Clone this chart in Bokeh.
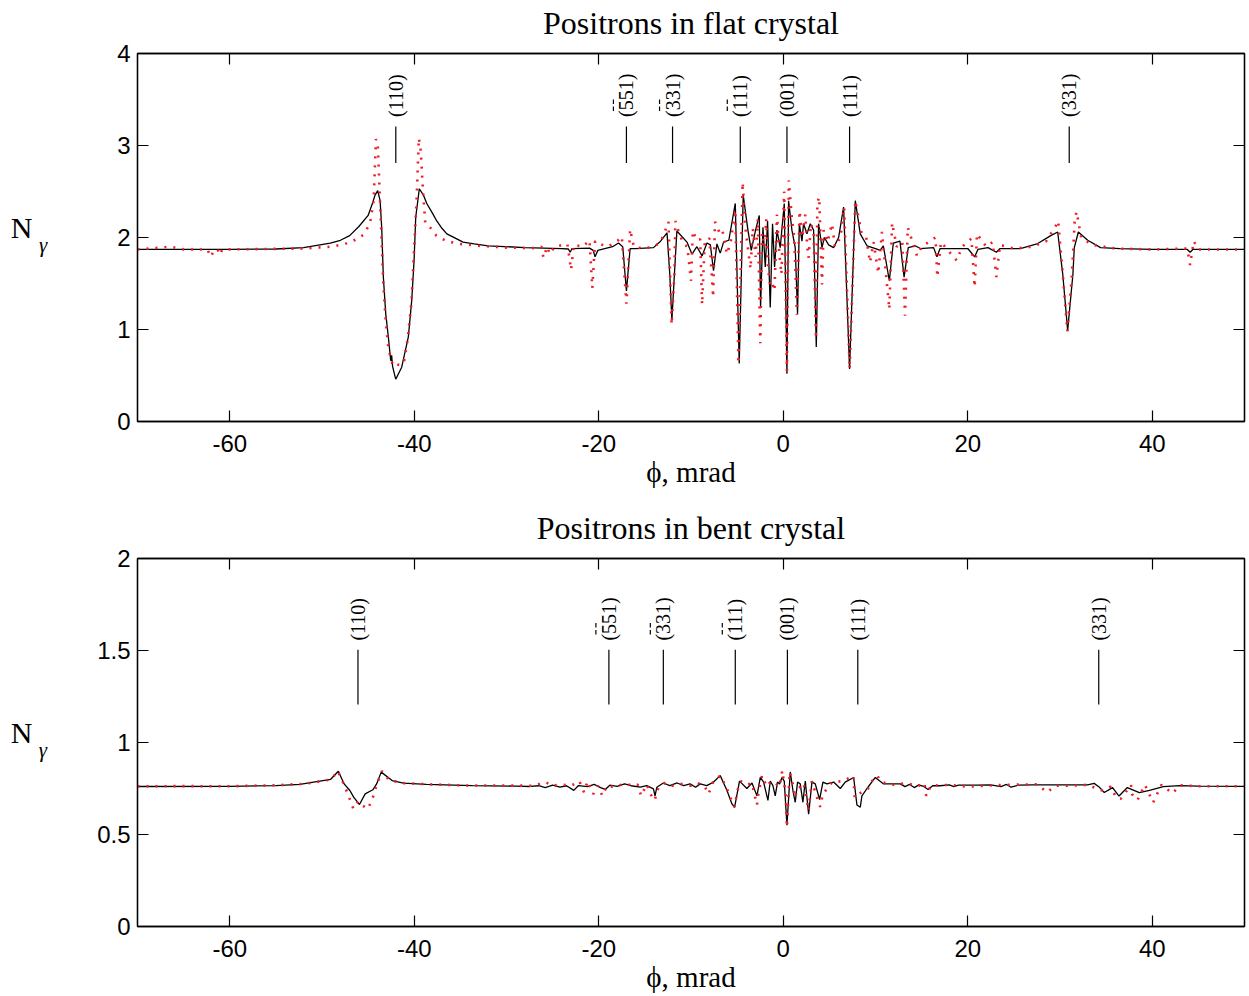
import math
from bokeh.plotting import figure
from bokeh.layouts import column
from bokeh.models import Range1d, LinearAxis, FixedTicker
from bokeh.core.properties import value
from bokeh.embed import file_html
from bokeh.resources import INLINE

# ---------------- data ----------------
x_ticks = [-60, -40, -20, 0, 20, 40]
x_tick_labels = {-60: "-60", -40: "-40", -20: "-20", 0: "0", 20: "20", 40: "40"}
flat_y_ticks = [0, 1, 2, 3, 4]
bent_y_ticks = [0, 0.5, 1, 1.5, 2]
bent_y_tick_labels = {0: "0", 0.5: "0.5", 1: "1", 1.5: "1.5", 2: "2"}

plane_names = ["(110)", "(551)", "(331)", "(111)", "(001)", "(111)", "(331)"]
plane_has_bars = [False, True, True, True, False, False, False]
flat_plane_x = [-42.0, -17.0, -12.0, -4.66, 0.40, 7.19, 31.0]
bent_plane_x = [-46.1, -18.9, -13.0, -5.2, 0.45, 8.08, 34.2]

# flat crystal: black curve
flat_line_x = [-70, -60, -55, -52, -49.1, -48, -47, -46, -45, -44.5, -44.25, -43.96, -43.7,
               -43.53, -43.35, -43.09, -42.81, -42.55, -42.45, -42.35, -42.01, -41.36, -40.64,
               -40.27, -40.02, -39.84, -39.45, -39.0, -38.64, -38.0, -37.56, -37.0, -36.47,
               -35.5, -34.71, -33.5, -32, -28, -24,
               -23.3, -23.1, -22.9, -21, -20.6, -20.4, -20.1, -18.5, -17.86, -17.4, -17.0, -16.6,
               -16.0, -14.07, -13.3, -12.6, -12.3, -12.07, -11.8, -11.53, -10.44, -9.9, -9.36,
               -8.8, -8.27, -7.9, -7.56, -7.19, -6.83, -6.47, -5.9, -5.2, -4.77, -4.34, -3.83,
               -3.47, -3.0, -2.6, -2.46, -2.2, -1.95, -1.7, -1.41, -1.16, -0.94, -0.68, -0.33,
               0.11, 0.40, 0.58, 0.94, 1.30, 1.55, 1.74, 2.03, 2.20, 2.57, 2.93, 3.29, 3.58,
               3.83, 4.20, 4.45, 4.92, 5.46, 6.0, 6.54, 7.19, 7.81, 8.35, 9.08, 10.0, 10.5,
               10.85, 11.5, 11.93, 12.65, 13.1, 13.55, 14.3, 14.86, 16.3, 16.66, 17.0, 18.5,
               20.0, 20.75, 21.1, 22.2, 23.1, 23.5, 25.7, 27.5, 29.0, 29.75, 30.3, 30.83, 31.4,
               31.55, 31.99, 33.0, 34.4, 36.5, 40, 43.8, 44.1, 44.4, 50]
flat_line_y = [1.87, 1.87, 1.875, 1.89, 1.94, 1.97, 2.02, 2.12, 2.24, 2.38, 2.46, 2.51, 2.4,
               2.11, 1.57, 1.17, 0.92, 0.66, 0.72, 0.60, 0.46, 0.59, 0.92,
               1.32, 1.75, 2.22, 2.53, 2.46, 2.37, 2.26, 2.18, 2.1, 2.04,
               1.99, 1.95, 1.93, 1.91, 1.89, 1.88,
               1.875, 1.84, 1.88, 1.885, 1.86, 1.79, 1.86, 1.9, 1.94, 1.9, 1.42, 1.88,
               1.88, 1.89, 1.96, 2.05, 1.6, 1.10, 1.6, 2.07, 1.95, 1.82, 1.9,
               1.80, 1.94, 1.92, 1.64, 1.93, 1.83, 1.95, 1.97, 2.37, 0.63, 2.46, 2.08,
               1.86, 2.08, 2.24, 1.24, 2.11, 1.68, 2.18, 1.24, 2.15, 1.68, 2.08, 1.89,
               2.37, 0.52, 2.40, 2.08, 1.89, 1.17, 2.15, 1.96, 2.15, 2.04, 2.15, 2.08, 0.81,
               2.15, 1.89, 2.0, 1.92, 1.89, 2.0, 2.33, 0.57, 2.40, 2.04, 1.91, 1.88, 1.86,
               1.91, 1.53, 1.94, 1.96, 1.57, 1.89, 1.91, 1.88, 1.89, 1.79, 1.88, 1.88,
               1.88, 1.79, 1.87, 1.89, 1.84, 1.88, 1.88, 1.93, 2.02, 2.06, 1.6, 0.99, 1.6,
               1.89, 2.06, 1.97, 1.89, 1.88, 1.87, 1.87, 1.84, 1.87, 1.87]

# flat crystal: red dotted curve
flat_dots_x = [-70, -66.4, -65, -62.4, -62.1, -61.6, -61.3, -61.1, -60.8, -56, -52, -49,
               -47.5, -46.5, -45.5, -44.8, -44.4, -44.15, -43.95, -43.75, -43.55, -43.35,
               -43.1, -42.8, -42.5, -42.2, -41.9, -41.5, -41.1, -40.7, -40.3, -40.0, -39.75,
               -39.5, -39.3, -39.05, -38.8, -38.2, -37.6, -36.5, -35, -33, -30, -27, -26.2,
               -26.0, -25.6, -25.3, -24.8, -23.4, -23.0, -22.7, -21.7, -21.0, -20.7, -20.4,
               -19.9, -19.0, -17.9, -17.5, -17.0, -16.6, -16.2, -15.2, -14.0, -13.3, -12.7,
               -12.44, -12.1, -11.8, -11.7, -11.3, -10.8, -10.4, -10.0, -9.8, -9.4, -9.0,
               -8.8, -8.5, -8.0, -7.6, -7.4, -6.9, -6.6, -6.1, -5.7, -5.2, -4.85, -4.4, -4.1,
               -3.75, -3.55, -3.3, -3.0, -2.75, -2.49, -2.3, -2.05, -1.85, -1.65, -1.45,
               -1.25, -0.95, -0.68, -0.4, -0.2, 0.1, 0.4, 0.6, 0.94, 1.2, 1.48, 1.77, 2.05,
               2.39, 2.6, 2.75, 3.0, 3.3, 3.55, 3.7, 3.9, 4.2, 4.38, 4.8, 5.28, 5.6, 6.2,
               6.6, 7.2, 7.81, 8.5, 9.0, 9.4, 9.8, 10.3, 10.7, 11.5, 11.8, 12.3, 12.9, 13.2,
               13.5, 14.5, 15.0, 16.5, 16.7, 17.1, 18.8, 19.4, 20.4, 20.75, 21.0, 22.0, 22.7,
               23.1, 23.5, 25, 27, 28.5, 29.5, 29.8, 30.3, 30.8, 31.3, 31.6, 31.8, 32.3,
               33.5, 36, 40, 43.8, 44.1, 44.5, 45, 50]
flat_dots_y = [1.87, 1.90, 1.87, 1.87, 1.79, 1.87, 1.87, 1.81, 1.87, 1.875, 1.88, 1.9,
               1.93, 1.97, 2.03, 2.15, 2.4, 3.07, 3.0, 2.5, 2.0, 1.5,
               1.1, 0.8, 0.66, 0.6, 0.62, 0.61, 0.66, 0.9, 1.3, 1.9, 2.4,
               3.08, 2.95, 2.5, 2.15, 2.1, 2.02, 1.96, 1.93, 1.91, 1.89, 1.885, 1.9,
               1.78, 1.9, 1.82, 1.9, 1.93, 1.65, 1.92, 1.9, 1.97, 1.45, 1.96,
               1.93, 1.9, 1.97, 2.01, 1.28, 2.09, 1.9, 1.88, 1.9, 1.95, 2.1,
               2.17, 1.05, 1.6, 2.18, 2.05, 1.93, 1.9, 1.53, 2.07, 1.97, 1.98,
               1.27, 1.97, 1.99, 1.35, 2.17, 2.05, 2.08, 1.82, 1.95, 2.3, 0.63, 2.60, 2.1,
               1.82, 1.66, 2.1, 1.79, 2.2, 0.85, 2.05, 1.9, 2.2, 1.66, 1.5,
               1.53, 1.42, 2.25, 1.8, 1.6, 2.5, 0.55, 2.62, 2.2, 2.0, 1.16, 2.29, 2.0,
               2.25, 1.9, 1.78, 2.15, 2.05, 0.9, 2.38, 2.44, 1.49, 2.08, 1.95, 2.15, 1.9, 2.0,
               2.33, 0.57, 2.40, 2.04, 2.0, 1.73, 1.95, 1.61, 2.06, 1.22, 2.16, 1.9, 1.95, 1.15,
               2.11, 1.8, 1.9, 2.0, 1.57, 1.95, 1.75, 1.9, 1.99, 1.46, 2.04, 1.9, 1.95,
               1.57, 1.92, 1.88, 1.9, 1.96, 2.12, 2.18, 1.6, 0.98, 1.6, 2.2, 2.28, 2.0,
               1.92, 1.88, 1.87, 1.88, 1.7, 1.96, 1.87, 1.87]

# bent crystal: black curve
bent_line_x = [-70, -60, -55, -52.4, -49.9, -49.06, -48.23, -47.6, -46.98, -46.57, -45.94,
               -45.32, -44.49, -44.08, -43.58, -42.4, -41.17, -38.68, -33.69, -29, -27.45,
               -26.5, -25.8, -25.0, -24.2, -23.5, -22.7, -22.2, -21.2, -20.5, -19.8, -19.3,
               -18.8, -18.0, -17.2, -16.5, -15.5, -14.8, -14.07, -13.9, -13.7, -13.0, -12.3,
               -11.5, -10.8, -10.1, -9.5, -9.0, -8.3, -7.56, -6.83, -6.1, -5.56, -5.28, -4.74,
               -3.94, -3.39, -2.85, -2.49, -2.13, -1.66, -1.41, -1.12, -0.87, -0.62, -0.40,
               -0.14, 0.11, 0.40, 0.76, 1.05, 1.30, 1.55, 1.84, 2.13, 2.39, 2.75, 3.11, 3.47,
               3.94, 4.3, 4.74, 5.46, 6.18, 6.72, 7.63, 7.99, 8.35, 8.53, 9.08, 9.98, 10.88,
               12.69, 13.2, 13.7, 14.2, 14.7, 15.2, 15.7, 16.2, 17.0, 18.0, 18.5, 19.0, 21,
               22.5, 23.6, 24.2, 24.7, 25.5, 27, 30, 33, 33.7, 34.2, 34.8, 35.7, 36.4, 37.3,
               38.6, 39.7, 41.2, 43.0, 45, 50]
bent_line_y = [0.761, 0.762, 0.766, 0.772, 0.793, 0.80, 0.844, 0.775, 0.739, 0.703, 0.663,
               0.721, 0.743, 0.775, 0.839, 0.793, 0.779, 0.772, 0.766, 0.763, 0.761,
               0.765, 0.755, 0.768, 0.758, 0.765, 0.74, 0.766, 0.76, 0.772, 0.755, 0.745,
               0.768, 0.762, 0.775, 0.765, 0.757, 0.766, 0.748, 0.71, 0.757, 0.78, 0.766,
               0.78, 0.766, 0.775, 0.757, 0.775, 0.766, 0.785, 0.82, 0.739, 0.666, 0.648, 0.79,
               0.75, 0.78, 0.71, 0.81, 0.785, 0.685, 0.79, 0.766, 0.71, 0.785, 0.775,
               0.81, 0.79, 0.55, 0.84, 0.739, 0.675, 0.785, 0.775, 0.675, 0.79, 0.61, 0.785, 0.775,
               0.69, 0.785, 0.775, 0.785, 0.75, 0.785, 0.81, 0.66, 0.648, 0.71, 0.75, 0.81, 0.775,
               0.775, 0.76, 0.772, 0.755, 0.77, 0.762, 0.745, 0.765, 0.765, 0.77, 0.76, 0.768, 0.768,
               0.77, 0.76, 0.772, 0.757, 0.768, 0.77, 0.77, 0.77, 0.778, 0.76, 0.728, 0.755, 0.709, 0.755,
               0.728, 0.74, 0.76, 0.766, 0.763, 0.762]

# bent crystal: red dotted curve
bent_dots_x = [-70, -65, -60, -55, -52, -50, -49, -48.3, -47.6, -47.2, -46.6, -46.1, -45.7,
               -45.0, -44.5, -44.0, -43.5, -42.8, -41.5, -38, -34, -30, -27, -26.6, -25.8,
               -25, -24.1, -23, -22.1, -21.6, -21.2, -20.6, -20.1, -19.6, -19.1, -18.5, -17.1,
               -16.3, -15.8, -15.4, -14.8, -14.4, -13.95, -13.5, -12.8, -12, -11, -10, -9.3,
               -8.5, -8.1, -7.6, -6.83, -6.1, -5.9, -5.3, -4.9, -4.6, -3.9, -3.4, -2.85, -2.7,
               -2.3, -1.8, -1.5, -1.2, -0.9, -0.4, -0.1, 0.25, 0.4, 0.7, 1.0, 1.3, 1.5, 1.9,
               2.2, 2.75, 3.1, 3.6, 4.0, 4.3, 5.3, 6.5, 7.6, 7.75, 8.2, 8.5, 8.9, 9.2, 9.4,
               10.2, 10.6, 12, 13.5, 14.5, 15.3, 15.5, 16, 18, 20, 22, 24, 27.5, 28.6, 29.5,
               31, 33, 34.5, 35.5, 36.1, 36.6, 37.7, 37.8, 38.4, 39.2, 40.1, 41.0, 42.2, 43,
               45, 50]
bent_dots_y = [0.762, 0.763, 0.762, 0.768, 0.775, 0.79, 0.80, 0.845, 0.77, 0.72, 0.64, 0.68, 0.66,
               0.64, 0.70, 0.78, 0.845, 0.80, 0.78, 0.772, 0.766, 0.766, 0.765, 0.772, 0.785,
               0.765, 0.772, 0.765, 0.79, 0.73, 0.79, 0.72, 0.765, 0.71, 0.765, 0.76, 0.775,
               0.765, 0.772, 0.71, 0.772, 0.72, 0.685, 0.76, 0.78, 0.765, 0.775, 0.765, 0.78,
               0.76, 0.72, 0.785, 0.82, 0.75, 0.72, 0.65, 0.75, 0.79, 0.77, 0.78, 0.66, 0.72,
               0.82, 0.76, 0.78, 0.77, 0.78, 0.76, 0.848, 0.72, 0.54, 0.84, 0.78, 0.70, 0.75, 0.76,
               0.78, 0.63, 0.79, 0.71, 0.65, 0.72, 0.785, 0.79, 0.82, 0.70, 0.72, 0.73, 0.74, 0.75, 0.78,
               0.82, 0.785, 0.77, 0.78, 0.76, 0.78, 0.71, 0.765, 0.77, 0.76, 0.765, 0.77, 0.773, 0.73, 0.765,
               0.765, 0.77, 0.74, 0.76, 0.70, 0.695, 0.77, 0.72, 0.687, 0.77, 0.674, 0.77, 0.724, 0.768,
               0.762, 0.762]

# ---------------- styling helpers ----------------
SERIF = "Liberation Serif"
SANS = "Liberation Sans"
RED = "#f01b24"
X_PX = 1107 / 120.0          # screen pixels per mrad


def style_axis(ax, ticks, show_labels, overrides=None, standoff=8):
    ax.ticker = FixedTicker(ticks=ticks)
    ax.major_tick_in = 11
    ax.major_tick_out = 0
    ax.minor_tick_line_color = None
    ax.axis_line_color = "black"
    ax.axis_line_width = 1.3
    ax.major_tick_line_color = "black"
    ax.major_tick_line_width = 1.2
    if show_labels:
        ax.major_label_text_font = SANS
        ax.major_label_text_font_size = "24px"
        ax.major_label_text_color = "black"
        ax.major_label_standoff = standoff
        if overrides:
            ax.major_label_overrides = overrides
    else:
        ax.major_label_text_font_size = "0px"
        ax.major_label_standoff = 0
        ax.major_label_text_color = None


def make_panel(title, height, border_top, border_bottom, y_max, y_ticks, y_overrides, gamma_standoff,
               line_x, line_y, dots_x, dots_y, plane_x, text_y, seg_y0, seg_y1):
    fh = height - border_top - border_bottom
    y_px = fh / y_max            # screen pixels per y unit
    p = figure(width=1249, height=height, x_range=Range1d(-70, 50), y_range=Range1d(0, y_max),
               output_backend="svg", toolbar_location=None,
               min_border_left=137, min_border_right=5,
               min_border_top=border_top, min_border_bottom=border_bottom)
    p.xgrid.visible = False
    p.ygrid.visible = False
    p.outline_line_color = "black"
    p.outline_line_width = 1.3
    p.background_fill_color = "white"
    p.border_fill_color = "white"

    # trailing empty line (with a small line height) lifts the title inside its panel
    p.title.text = title + "\n"
    p.title.align = "center"
    p.title.text_font = SERIF
    p.title.text_font_size = "32px"
    p.title.text_font_style = "normal"
    p.title.text_color = "black"
    p.title.text_line_height = 0.36
    p.title.standoff = 0

    style_axis(p.xaxis[0], x_ticks, True, overrides=x_tick_labels, standoff=13)
    p.xaxis[0].axis_label = "\u03d5, mrad"
    p.xaxis[0].axis_label_text_font = SERIF
    p.xaxis[0].axis_label_text_font_size = "29px"
    p.xaxis[0].axis_label_text_font_style = "normal"
    p.xaxis[0].axis_label_text_color = "black"
    p.xaxis[0].axis_label_standoff = 1

    ly = p.yaxis[0]
    style_axis(ly, y_ticks, True, overrides=y_overrides, standoff=7)
    ly.axis_label = "\n\u03b3"
    ly.axis_label_orientation = "horizontal"
    ly.axis_label_text_font = SERIF
    ly.axis_label_text_font_size = "21px"
    ly.axis_label_text_font_style = "italic"
    ly.axis_label_text_color = "black"
    ly.axis_label_text_line_height = 0.6
    ly.axis_label_standoff = gamma_standoff

    n_ax = LinearAxis(ticker=FixedTicker(ticks=[]))
    n_ax.axis_line_color = None
    n_ax.major_tick_line_color = None
    n_ax.minor_tick_line_color = None
    n_ax.major_label_text_font_size = "0px"
    n_ax.major_label_standoff = 0
    n_ax.major_tick_out = 0
    n_ax.major_tick_in = 0
    n_ax.axis_label = "N\n"
    n_ax.axis_label_orientation = "horizontal"
    n_ax.axis_label_text_font = SERIF
    n_ax.axis_label_text_font_size = "30px"
    n_ax.axis_label_text_font_style = "normal"
    n_ax.axis_label_text_color = "black"
    n_ax.axis_label_text_line_height = 0.6
    n_ax.axis_label_standoff = 3
    p.add_layout(n_ax, "left")

    top_ax = LinearAxis()
    right_ax = LinearAxis()
    style_axis(top_ax, x_ticks, False)
    style_axis(right_ax, y_ticks, False)
    p.add_layout(top_ax, "above")
    p.add_layout(right_ax, "right")

    p.line(line_x, line_y, line_color="black", line_width=1.3)
    p.line(dots_x, dots_y, line_color=RED, line_width=2.6, line_dash="2 7")

    p.segment(x0=plane_x, y0=seg_y0, x1=plane_x, y1=seg_y1, line_color="black", line_width=1.2)
    p.text(x=plane_x, y=[text_y] * len(plane_x), text=plane_names, angle=math.pi / 2,
           text_font=value(SERIF), text_font_size=value("20px"), text_align="left",
           text_baseline="middle", text_color="black")

    # overbars of the negative Miller indices (two short bars beside the rotated text)
    bx, by0, by1 = [], [], []
    for xv, has in zip(plane_x, plane_has_bars):
        if has:
            for a, b in ((6, 10.5), (13, 17.5)):
                bx.append(xv - 13 / X_PX)
                by0.append(text_y + a / y_px)
                by1.append(text_y + b / y_px)
    p.segment(x0=bx, y0=by0, x1=bx, y1=by1, line_color="black", line_width=1.2)
    return p


p_flat = make_panel("Positrons in flat crystal", 500, 53, 79, 4, flat_y_ticks, None, 67,
                    flat_line_x, flat_line_y, flat_dots_x, flat_dots_y, flat_plane_x,
                    3.31, 2.81, 3.207)
p_bent = make_panel("Positrons in bent crystal", 496, 58, 70, 2, bent_y_ticks, bent_y_tick_labels, 47,
                    bent_line_x, bent_line_y, bent_dots_x, bent_dots_y, bent_plane_x,
                    1.554, 1.207, 1.504)

layout = column(p_flat, p_bent, spacing=0)
open("out.html", "w").write(file_html(layout, INLINE))
